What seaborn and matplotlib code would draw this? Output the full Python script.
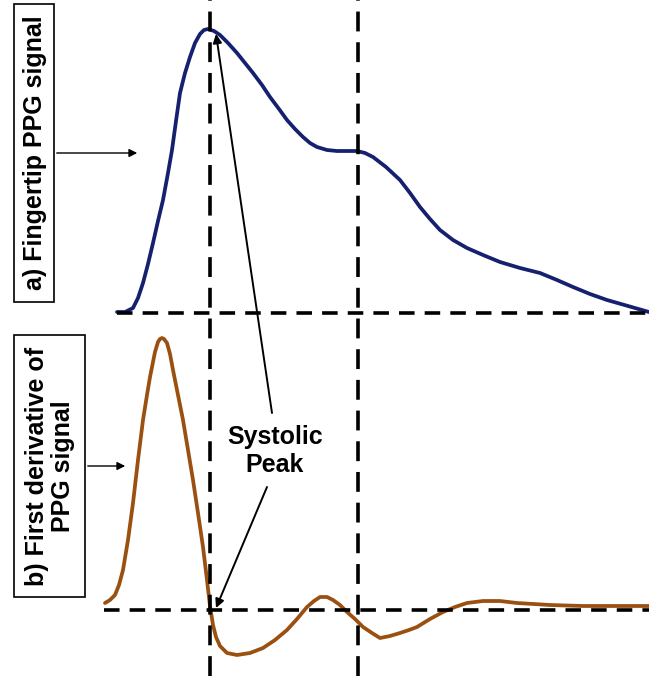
import matplotlib
matplotlib.use("Agg")
import matplotlib.pyplot as plt
from matplotlib.patches import Rectangle
import numpy as np
import pandas as pd
import seaborn as sns

# Fingertip PPG pulse: sample time (px along the shared time axis) and amplitude above baseline
ppg_t = [117, 125, 133, 138, 143, 148, 153, 158, 163, 168, 172, 176, 180, 185, 190, 195, 200, 204, 208,
         214, 220, 228, 237, 245, 253, 262, 270, 279, 287, 295, 303, 310, 317, 327, 337, 347, 357,
         365, 373, 386, 400, 410, 420, 430, 440, 453, 467, 483, 500, 520, 540, 557, 573, 590, 607, 628, 649]
ppg_amp = [1, 1, 5, 15, 30, 49, 70, 92, 113, 140, 163, 192, 220, 240, 256, 270, 279, 283, 284,
           282, 278, 270, 260, 250, 240, 228, 216, 204, 193, 184, 176, 170, 166, 163, 162, 162, 162,
           160, 156, 146, 133, 120, 106, 94, 83, 73, 65, 58, 51, 45, 40, 33, 26, 19, 13, 7, 1]

# First derivative of the PPG pulse
der_t = [105, 110, 115, 119, 123, 128, 133, 138, 143, 147, 150, 155, 158, 160, 162, 164, 167, 170, 173,
         178, 183, 188, 193, 198, 203, 207, 210, 213, 216, 220, 227, 237, 250, 263, 275, 287, 297, 307,
         314, 320, 327, 333, 340, 347, 355, 363, 372, 380, 390, 400, 409, 417, 430, 443, 455, 467, 483,
         500, 517, 550, 583, 623, 649]
der_amp = [7, 10, 15, 25, 40, 70, 107, 150, 190, 215, 233, 258, 268, 271, 272, 271, 267, 256, 240,
           215, 190, 160, 130, 97, 63, 30, 4, -15, -27, -36, -43, -45, -43, -38, -30, -20, -9, 3,
           9, 13, 13, 10, 5, -2, -9, -17, -23, -28, -26, -23, -20, -17, -9, -2, 3, 7, 9,
           9, 7, 5, 4, 4, 4]

ppg_base = 363   # vertical position of the PPG baseline
der_base = 66    # vertical position of the derivative baseline

ppg = pd.DataFrame({"t": ppg_t, "y": np.array(ppg_amp) + ppg_base})
der = pd.DataFrame({"t": der_t, "y": np.array(der_amp) + der_base})

sns.set_theme(style="white")
plt.rcParams["font.family"] = ["Liberation Sans", "DejaVu Sans"]
plt.rcParams["text.color"] = "black"

fig = plt.figure(figsize=(6.49, 6.76), dpi=100)
ax = fig.add_axes([0, 0, 1, 1])
ax.set_xlim(0, 649)
ax.set_ylim(0, 676)
ax.axis("off")

sns.lineplot(data=ppg, x="t", y="y", ax=ax, sort=False, color="#15206f", lw=2.7, zorder=2)
sns.lineplot(data=der, x="t", y="y", ax=ax, sort=False, color="#9a5011", lw=2.7, zorder=2)

# Reference lines: peak time, dicrotic notch time, and the two baselines
dash_v = (0, (5.5, 3.0))
dash_h = (0, (4.3, 2.8))
for xv in (210, 358):
    ax.plot([xv, xv], [0, 676], color="black", lw=2.6, ls=dash_v, zorder=3)
ax.plot([117, 649], [ppg_base, ppg_base], color="black", lw=2.6, ls=dash_h, zorder=3)
ax.plot([104, 649], [der_base, der_base], color="black", lw=2.6, ls=dash_h, zorder=3)

# Panel labels in boxes
ax.add_patch(Rectangle((14, 676 - 302), 40, 298, fill=False, ec="black", lw=1.2))
ax.text(35, 676 - 153, "a) Fingertip PPG signal", rotation=90, ha="center", va="center",
        fontsize=18, fontweight="bold", color="black")
ax.add_patch(Rectangle((14, 676 - 597), 71, 262, fill=False, ec="black", lw=1.2))
ax.text(50, 676 - 466, "b) First derivative of\nPPG signal", rotation=90, ha="center",
        va="center", multialignment="center", fontsize=18, fontweight="bold",
        linespacing=1.15, color="black")

thin = dict(arrowstyle="-|>", color="black", lw=1.0, mutation_scale=12)
ax.annotate("", xy=(140, 676 - 153), xytext=(54, 676 - 153), arrowprops=thin)
ax.annotate("", xy=(128, 676 - 466), xytext=(85, 676 - 466), arrowprops=thin)

# Systolic peak callout
ax.text(275, 676 - 451, "Systolic\nPeak", ha="center", va="center", fontsize=18,
        fontweight="bold", linespacing=1.2, color="black")
peak = dict(arrowstyle="-|>", color="black", lw=1.4, mutation_scale=13, shrinkA=0, shrinkB=0)
ax.annotate("", xy=(216, 676 - 34), xytext=(272, 676 - 413), arrowprops=peak, zorder=4)
ax.annotate("", xy=(216, 676 - 608), xytext=(267, 676 - 487), arrowprops=peak, zorder=4)

fig.savefig("out.png", dpi=100)
